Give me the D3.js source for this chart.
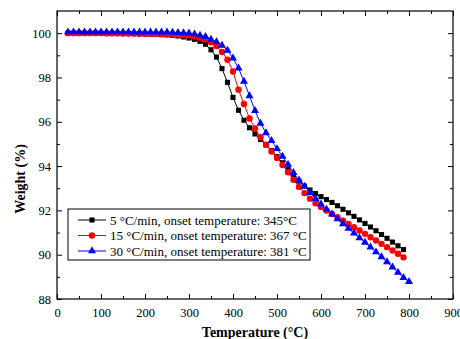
<!DOCTYPE html>
<html>
<head>
<meta charset="utf-8">
<script src="https://cdn.jsdelivr.net/npm/d3@7"></script>
<style>
  html, body { margin: 0; padding: 0; background: #fff; }
  svg { display: block; }
  text { font-family: "Liberation Serif", "Times New Roman", serif; fill: #000; }
</style>
</head>
<body>
<svg id="chart" width="460" height="339"></svg>
<script>
// ---- data ----
const temps = [25, 37.5, 50, 62.5, 75, 87.5, 100, 112.5, 125, 137.5, 150, 162.5, 175, 187.5, 200, 212.5, 225, 237.5, 250,
  262.5, 275, 287.5, 300, 312.5, 325, 337.5, 350, 362.5, 375, 387.5, 400, 412.5, 425, 437.5, 450, 462.5, 475, 487.5, 500,
  512.5, 525, 537.5, 550, 562.5, 575, 587.5, 600, 612.5, 625, 637.5, 650, 662.5, 675, 687.5, 700, 712.5, 725, 737.5, 750,
  762.5, 775, 787.5];
const tempsBlue = [25, 37.5, 50, 62.5, 75, 87.5, 100, 112.5, 125, 137.5, 150, 162.5, 175, 187.5, 200, 212.5, 225, 237.5, 250,
  262.5, 275, 287.5, 300, 312.5, 325, 337.5, 350, 362.5, 375, 387.5, 400, 412.5, 425, 437.5, 450, 462.5, 475, 487.5, 500,
  512.5, 525, 537.5, 550, 562.5, 575, 587.5, 600, 612.5, 625, 637.5, 650, 662.5, 675, 687.5, 700, 712.5, 725, 737.5, 750,
  762.5, 775, 787.5, 800];
const weight5 = [100.00, 100.00, 100.00, 100.00, 100.00, 100.00, 100.00, 99.99, 99.99, 99.99, 99.98, 99.98, 99.97, 99.97, 99.96, 99.95, 99.94, 99.93, 99.92,
  99.90, 99.87, 99.83, 99.78, 99.72, 99.63, 99.50, 99.25, 98.92, 98.40, 97.78, 97.10, 96.52, 96.07, 95.73, 95.45, 95.20, 94.95, 94.70, 94.43,
  94.15, 93.85, 93.57, 93.32, 93.10, 92.92, 92.76, 92.62, 92.49, 92.36, 92.21, 92.05, 91.89, 91.73, 91.57, 91.41, 91.25, 91.08, 90.91, 90.74,
  90.57, 90.40, 90.23];
const weight15 = [100.00, 100.00, 100.00, 100.00, 100.00, 100.00, 100.00, 99.99, 99.99, 99.99, 99.98, 99.98, 99.98, 99.97, 99.97, 99.97, 99.96, 99.96, 99.95,
  99.94, 99.93, 99.91, 99.89, 99.85, 99.79, 99.71, 99.59, 99.42, 99.15, 98.80, 98.27, 97.45, 96.80, 96.15, 95.70, 95.30, 94.97, 94.66, 94.37,
  94.05, 93.72, 93.38, 93.06, 92.78, 92.53, 92.32, 92.15, 91.99, 91.84, 91.69, 91.54, 91.39, 91.24, 91.09, 90.94, 90.79, 90.64, 90.49, 90.34,
  90.19, 90.04, 89.88];
const weight30 = [100.05, 100.05, 100.05, 100.05, 100.05, 100.05, 100.05, 100.05, 100.05, 100.05, 100.05, 100.05, 100.04, 100.04, 100.04, 100.04, 100.04, 100.04, 100.04,
  100.03, 100.02, 100.01, 100.00, 99.96, 99.90, 99.84, 99.72, 99.60, 99.45, 99.22, 98.87, 98.42, 97.82, 97.17, 96.50, 95.93, 95.50, 95.15, 94.78,
  94.44, 94.07, 93.70, 93.36, 93.08, 92.80, 92.53, 92.28, 92.05, 91.83, 91.61, 91.39, 91.18, 90.97, 90.76, 90.55, 90.34, 90.12, 89.90, 89.67,
  89.44, 89.20, 88.96, 88.78];
const seriesLabels = ["5 \u00B0C/min, onset temperature: 345\u00B0C",
                      "15 \u00B0C/min, onset temperature: 367 \u00B0C",
                      "30 \u00B0C/min, onset temperature: 381 \u00B0C"];
const xTicks = [0, 100, 200, 300, 400, 500, 600, 700, 800, 900];
const yTicks = [88, 90, 92, 94, 96, 98, 100];
const xTitle = "Temperature (\u00B0C)";
const yTitle = "Weight (%)";

// ---- layout ----
const FONT = "'Liberation Serif', 'Times New Roman', serif";
const svg = d3.select("#chart");
const L = 57, R = 453, T = 11, B = 299;
const x = d3.scaleLinear().domain([0, 900]).range([L, R]);
const y = d3.scaleLinear().domain([88, 101]).range([B, T]);

const series = [
  { t: temps, w: weight5, color: "#000000", sym: d3.symbolSquare, size: 26 },
  { t: temps, w: weight15, color: "#ff0000", sym: d3.symbolCircle, size: 32 },
  { t: tempsBlue, w: weight30, color: "#0000ff", sym: d3.symbolTriangle, size: 28 }
];

// ---- axes (ticks inward) ----
const xMinor = [50, 150, 250, 350, 450, 550, 650, 750, 850];
const yMinor = [89, 91, 93, 95, 97, 99];

function tickAxis(axisFn, scale, vals, len, pos, labels) {
  const a = axisFn(scale).tickValues(vals).tickSizeInner(-len).tickSizeOuter(0);
  if (!labels) a.tickFormat("");
  const g = svg.append("g").attr("transform", pos).call(a)
    .attr("font-family", FONT);
  g.select(".domain").remove();
  g.selectAll(".tick line").attr("stroke", "#000").attr("stroke-width", 1);
  return g;
}
// bottom
const gx = tickAxis(d3.axisBottom, x, xTicks, 5, `translate(0,${B})`, true);
gx.selectAll(".tick text").attr("y", 9).attr("dy", "0.71em")
  .style("font-size", "12.5px").style("font-family", FONT);
tickAxis(d3.axisBottom, x, xMinor, 3, `translate(0,${B})`, false);
// top
tickAxis(d3.axisTop, x, xTicks, 5, `translate(0,${T})`, false);
tickAxis(d3.axisTop, x, xMinor, 3, `translate(0,${T})`, false);
// left
const gy = tickAxis(d3.axisLeft, y, yTicks, 5, `translate(${L},0)`, true);
gy.selectAll(".tick text").attr("x", -6)
  .style("font-size", "12.5px").style("font-family", FONT);
tickAxis(d3.axisLeft, y, yMinor, 3, `translate(${L},0)`, false);
// right
tickAxis(d3.axisRight, y, yTicks, 5, `translate(${R},0)`, false);
tickAxis(d3.axisRight, y, yMinor, 3, `translate(${R},0)`, false);

// frame
svg.append("rect").attr("x", L).attr("y", T).attr("width", R - L).attr("height", B - T)
  .attr("fill", "none").attr("stroke", "#000").attr("stroke-width", 1.2);

// ---- series ----
const line = d3.line();
series.forEach(s => {
  const pts = s.t.map((t, i) => [x(t), y(s.w[i])]);
  svg.append("path").attr("d", line(pts)).attr("fill", "none")
    .attr("stroke", s.color).attr("stroke-width", 1);
  svg.append("g").selectAll("path").data(pts).join("path")
    .attr("transform", d => `translate(${d[0]},${d[1]})`)
    .attr("d", d3.symbol().type(s.sym).size(s.size))
    .attr("fill", s.color);
});

// ---- legend ----
const lg = svg.append("g");
lg.append("rect").attr("x", 68).attr("y", 209).attr("width", 242).attr("height", 51)
  .attr("fill", "#fff").attr("stroke", "#000").attr("stroke-width", 1);
series.forEach((s, i) => {
  const cy = 220 + i * 15.5;
  lg.append("line").attr("x1", 78).attr("x2", 106).attr("y1", cy).attr("y2", cy)
    .attr("stroke", s.color).attr("stroke-width", 1);
  lg.append("path").attr("transform", `translate(92,${cy})`)
    .attr("d", d3.symbol().type(s.sym).size(s.size)).attr("fill", s.color);
  lg.append("text").attr("x", 110).attr("y", cy).attr("dy", "0.35em")
    .style("font-size", "13px").style("font-family", FONT).text(seriesLabels[i]);
});

// ---- titles ----
svg.append("text").attr("x", (L + R) / 2).attr("y", 337).attr("text-anchor", "middle")
  .style("font-size", "14px").style("font-weight", "bold").style("font-family", FONT).text(xTitle);
svg.append("text").attr("transform", "translate(25,179) rotate(-90)").attr("text-anchor", "middle")
  .style("font-size", "14px").style("font-weight", "bold").style("font-family", FONT).text(yTitle);
</script>
</body>
</html>
